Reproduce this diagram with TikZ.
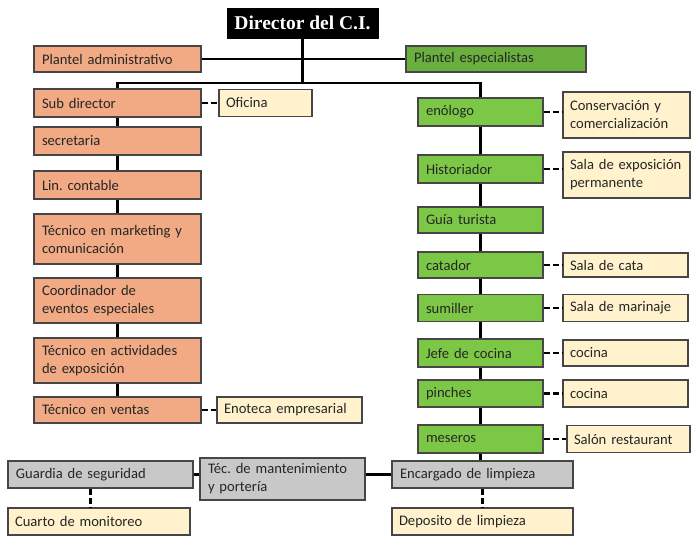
\documentclass[tikz,border=0pt]{standalone}
\usepackage{fontspec}
\setmainfont{Carlito}
\newfontfamily\dirfont{Liberation Serif}
\hyphenpenalty=10000
\definecolor{admcol}{RGB}{241,170,131}
\definecolor{espcol}{RGB}{106,176,62}
\definecolor{grncol}{RGB}{124,200,70}
\definecolor{loccol}{RGB}{255,242,204}
\definecolor{sercol}{RGB}{200,200,200}
\definecolor{bordcol}{RGB}{70,70,70}
\begin{document}
\begin{tikzpicture}[
    x=1pt, y=-1pt,
    box/.style={draw=bordcol, line width=1.1pt, inner xsep=8pt, inner ysep=0pt,
      align=left, font=\fontsize{14.6}{18}\selectfont, text=black!85},
    adm/.style={box, fill=admcol, text width=151pt},
    esp/.style={box, fill=espcol, text width=164pt, minimum height=26pt},
    grn/.style={box, fill=grncol, text width=109pt},
    loc/.style={box, fill=loccol, inner xsep=7pt},
    serv/.style={box, fill=sercol},
    jefe/.style={draw=black, fill=black, text=white, inner sep=0pt,
      minimum width=151pt, minimum height=30pt,
      font=\dirfont\fontsize{19.5}{21}\selectfont\bfseries},
    solid link/.style={line width=2.2pt},
    dash link/.style={line width=2.2pt, dash pattern=on 6pt off 3pt}
  ]
    \useasboundingbox (0,0) rectangle (691,536);
    % cabeza y planteles
    \node[jefe] (dir) at (302.5, 23) {Director del C.I.};
    \node[adm, minimum height=26pt] (padm) at (117.5, 59) {Plantel administrativo};
    \node[esp] (pesp) at (496, 59) {Plantel especialistas};
    % plantel administrativo
    \node[adm, minimum height=28pt] (subdir) at (117.5, 103) {Sub director};
    \node[loc, text width=79pt, minimum height=27pt] (ofi) at (265.5, 103) {Oficina};
    \node[adm, minimum height=28pt] (secr) at (117.5, 141) {secretaria};
    \node[adm, minimum height=28pt] (lin) at (117.5, 185) {Lin.\ contable};
    \node[adm, minimum height=50pt] (mkt) at (117.5, 239) {Técnico en marketing y\\comunicación};
    \node[adm, minimum height=45pt] (coord) at (117.5, 300.5) {Coordinador de\\eventos especiales};
    \node[adm, minimum height=45pt] (act) at (117.5, 360.5) {Técnico en actividades\\de exposición};
    \node[adm, minimum height=26pt] (vent) at (117.5, 410) {Técnico en ventas};
    \node[loc, text width=131pt, minimum height=26pt] (enot) at (289.5, 410) {Enoteca empresarial};
    % plantel especialistas
    \node[grn, minimum height=28pt] (eno) at (480.5, 112) {enólogo};
    \node[loc, text width=113pt, minimum height=46pt] (cons) at (626.5, 115) {Conservación y\\comercialización};
    \node[grn, minimum height=28pt] (hist) at (480.5, 169) {Historiador};
    \node[loc, text width=113pt, minimum height=46pt] (sala) at (626.5, 175) {Sala de exposición\\permanente};
    \node[grn, minimum height=26pt] (guia) at (480.5, 220) {Guía turista};
    \node[grn, minimum height=26pt] (cat) at (480.5, 265) {catador};
    \node[loc, text width=111pt, minimum height=24pt] (cata) at (625.5, 265) {Sala de cata};
    \node[grn, minimum height=27pt] (sum) at (480.5, 308) {sumiller};
    \node[loc, text width=111pt, minimum height=27pt] (mari) at (625.5, 308) {Sala de marinaje};
    \node[grn, minimum height=28pt] (jcoc) at (480.5, 353) {Jefe de cocina};
    \node[loc, text width=111pt, minimum height=26pt] (coc1) at (625.5, 353) {cocina};
    \node[grn, minimum height=27pt] (pin) at (480.5, 393.5) {pinches};
    \node[loc, text width=111pt, minimum height=27pt] (coc2) at (625.5, 393.5) {cocina};
    \node[grn, minimum height=28pt] (mes) at (480.5, 439) {meseros};
    \node[loc, text width=109pt, minimum height=27pt] (salon) at (628.5, 439) {Salón restaurant};
    % servicios
    \node[serv, text width=169pt, minimum height=27pt] (guard) at (100.5, 474.5) {Guardia de seguridad};
    \node[serv, text width=149pt, minimum height=42pt] (tec) at (282.5, 479) {Téc.\ de mantenimiento\\y portería};
    \node[serv, text width=165pt, minimum height=27pt] (enc) at (482.5, 474.5) {Encargado de limpieza};
    \node[loc, text width=168pt, minimum height=27pt] (cuarto) at (99, 521.5) {Cuarto de monitoreo};
    \node[loc, text width=167pt, minimum height=27pt] (dep) at (482.5, 521.5) {Deposito de limpieza};
    % enlaces
    \coordinate (bar) at (dir.south |- 0,83);
    \draw[solid link] (padm.east) -- (pesp.west);
    \draw[solid link] (dir.south) -- (bar);
    \draw[solid link] (subdir.north) |- (bar) -| (eno.north);
    \draw[solid link] (subdir) -- (secr) -- (lin) -- (mkt) -- (coord) -- (act) -- (vent);
    \draw[solid link] (eno) -- (hist) -- (guia) -- (cat) -- (sum) -- (jcoc) -- (pin) -- (mes);
    \draw[solid link] (mes.south) -- (mes.south |- enc.north);
    \draw[solid link] (guard.east) -- (guard.east -| tec.west);
    \draw[solid link] (enc.west) -- (enc.west -| tec.east);
    \draw[dash link] (subdir.east) -- (ofi.west);
    \draw[dash link] (vent.east) -- (enot.west);
    \foreach \g/\l in {eno/cons, hist/sala, cat/cata, sum/mari, jcoc/coc1, pin/coc2, mes/salon} {
      \draw[dash link] (\g.east) -- (\g.east -| \l.west);
    }
    \draw[dash link] ([xshift=-10pt]guard.south) -- ([xshift=-10pt]guard.south |- cuarto.north);
    \draw[dash link] (enc.south) -- (enc.south |- dep.north);
\end{tikzpicture}
\end{document}
